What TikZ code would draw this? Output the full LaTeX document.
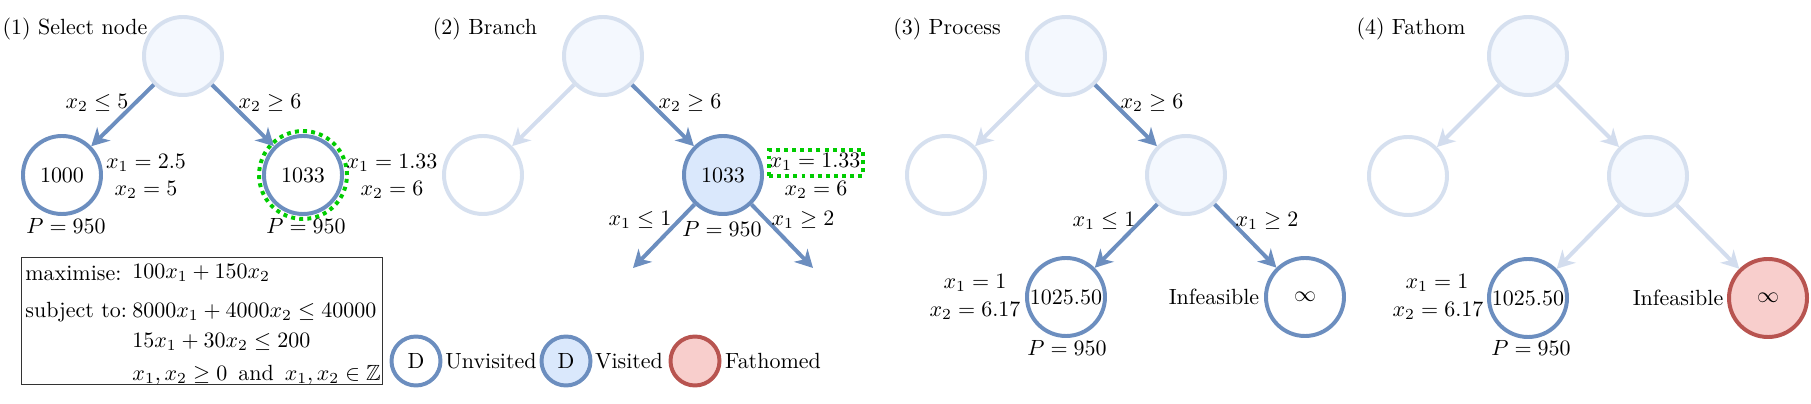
\documentclass[tikz,border=0pt]{standalone}
\usepackage{amssymb}
\usetikzlibrary{arrows.meta}
\definecolor{nblue}{HTML}{6C8EBF}
\definecolor{nfill}{HTML}{DAE8FC}
\definecolor{fstroke}{HTML}{D6E0EF}
\definecolor{ffill}{HTML}{F4F8FE}
\definecolor{farrow}{HTML}{D3DDEE}
\definecolor{nred}{HTML}{B85450}
\definecolor{rfill}{HTML}{F8CECC}
\definecolor{ngreen}{HTML}{00CC00}
\definecolor{boxgrey}{HTML}{333333}
\begin{document}
\begin{tikzpicture}[x=0.455pt, y=-0.455pt,
  bnode/.style={circle, inner sep=0pt, minimum size=35.5pt, line width=1.8pt},
  unv/.style={bnode, draw=nblue, fill=white},
  vis/.style={bnode, draw=nblue, fill=nfill},
  fvis/.style={bnode, draw=fstroke, fill=ffill},
  funv/.style={bnode, draw=fstroke, fill=white},
  fath/.style={bnode, draw=nred, fill=rfill},
  leg/.style={circle, inner sep=0pt, minimum size=22.3pt, line width=1.8pt},
  act/.style={draw=nblue, line width=1.8pt, -{Stealth[length=8pt,width=8.5pt,inset=2.5pt]}},
  fad/.style={draw=farrow, line width=1.8pt, -{Stealth[length=8pt,width=8.5pt,inset=2.5pt]}},
  gdot/.style={draw=ngreen, line width=1.8pt, dash pattern=on 1.8pt off 1.9pt},
  lbl/.style={inner sep=0pt},
  fm/.style={inner sep=0pt, anchor=west}
]
\useasboundingbox (0,0) rectangle (1811,404);

% ---------- Panel 1 ----------
\node[lbl] (t1) at (75,29) {(1) Select node};
\node[fvis] (r1) at (183,56) {};
\node[unv] (a1) at (62,175) {1000};
\node[unv] (b1) at (303,175) {1033};
\node[circle, gdot, inner sep=0pt, minimum size=40pt] (g1) at (303,175) {};
\draw[act] (r1) -- (a1);
\draw[act] (r1) -- (b1);
\node[lbl] (l1a) at (97,103) {$x_2 \le 5$};
\node[lbl] (l1b) at (270,103) {$x_2 \ge 6$};
\node[lbl] (s1a) at (146,163) {$x_1 = 2.5$};
\node[lbl] (s1b) at (146,190) {$x_2 = 5$};
\node[lbl] (p1a) at (66,226) {$P = 950$};
\node[lbl] (s1c) at (392,163) {$x_1 = 1.33$};
\node[lbl] (s1d) at (392,190) {$x_2 = 6$};
\node[lbl] (p1b) at (306,226) {$P = 950$};

% ---------- Panel 2 ----------
\node[lbl] (t2) at (485,29) {(2) Branch};
\node[fvis] (r2) at (603,56) {};
\node[funv] (a2) at (483,175) {};
\node[vis] (b2) at (723,175) {1033};
\coordinate (c2l) at (633,268);
\coordinate (c2r) at (813,268);
\draw[fad] (r2) -- (a2);
\draw[act] (r2) -- (b2);
\draw[act] (b2) -- (c2l);
\draw[act] (b2) -- (c2r);
\node[lbl] (l2a) at (690,103) {$x_2 \ge 6$};
\node[lbl] (l2b) at (640,220) {$x_1 \le 1$};
\node[lbl] (l2c) at (803,220) {$x_1 \ge 2$};
\node[lbl] (s2a) at (815,162) {$x_1 = 1.33$};
\node[draw=ngreen, line width=1.8pt, dash pattern=on 1.8pt off 1.9pt, minimum width=42.8pt, minimum height=11.8pt, inner sep=0pt] (gr2) at (816,163) {};
\node[lbl] (s2b) at (816,190) {$x_2 = 6$};
\node[lbl] (p2) at (722,229) {$P = 950$};

% ---------- Panel 3 ----------
\node[lbl] (t3) at (947,29) {(3) Process};
\node[fvis] (r3) at (1066,56) {};
\node[funv] (a3) at (946,175) {};
\node[fvis] (b3) at (1186,175) {};
\node[unv] (d3) at (1066,297) {1025.50};
\node[unv] (e3) at (1305,297) {$\infty$};
\draw[fad] (r3) -- (a3);
\draw[act] (r3) -- (b3);
\draw[act] (b3) -- (d3);
\draw[act] (b3) -- (e3);
\node[lbl] (l3a) at (1152,103) {$x_2 \ge 6$};
\node[lbl] (l3b) at (1104,221) {$x_1 \le 1$};
\node[lbl] (l3c) at (1267,221) {$x_1 \ge 2$};
\node[lbl] (s3a) at (975,283) {$x_1 = 1$};
\node[lbl] (s3b) at (975,311) {$x_2 = 6.17$};
\node[lbl] (p3) at (1067,348) {$P = 950$};
\node[lbl] (i3) at (1214,297) {Infeasible};

% ---------- Panel 4 ----------
\node[lbl] (t4) at (1411,29) {(4) Fathom};
\node[fvis] (r4) at (1528,56) {};
\node[funv] (a4) at (1408,176) {};
\node[fvis] (b4) at (1648,176) {};
\node[unv] (d4) at (1528,298) {1025.50};
\node[fath] (e4) at (1768,298) {$\infty$};
\draw[fad] (r4) -- (a4);
\draw[fad] (r4) -- (b4);
\draw[fad] (b4) -- (d4);
\draw[fad] (b4) -- (e4);
\node[lbl] (s4a) at (1437,283) {$x_1 = 1$};
\node[lbl] (s4b) at (1438,311) {$x_2 = 6.17$};
\node[lbl] (p4) at (1531,348) {$P = 950$};
\node[lbl] (i4) at (1678,298) {Infeasible};

% ---------- Formulation box ----------
\node[draw=boxgrey, line width=0.45pt, minimum width=164.7pt, minimum height=58.2pt, inner sep=0pt] (box) at (202,321) {};
\node[lbl, anchor=west] (m1) at (25,273) {maximise:};
\node[fm] (m2) at (132,273) {$100x_1 + 150x_2$};
\node[lbl, anchor=west] (m3) at (25,312) {subject to:};
\node[fm] (m4) at (132,312) {$8000x_1 + 4000x_2 \le 40000$};
\node[fm] (m5) at (132,342) {$15x_1 + 30x_2 \le 200$};
\node[fm] (m6) at (132,375) {$x_1, x_2 \ge 0$\enspace and\enspace $x_1, x_2 \in \mathbb{Z}$};

% ---------- Legend ----------
\node[leg, draw=nblue, fill=white] (lg1) at (416,361) {D};
\node[lbl] (lt1) at (491,361) {Unvisited};
\node[leg, draw=nblue, fill=nfill] (lg2) at (566,361) {D};
\node[lbl] (lt2) at (629,361) {Visited};
\node[leg, draw=nred, fill=rfill] (lg3) at (695,361) {};
\node[lbl] (lt3) at (773,361) {Fathomed};
\end{tikzpicture}
\end{document}
